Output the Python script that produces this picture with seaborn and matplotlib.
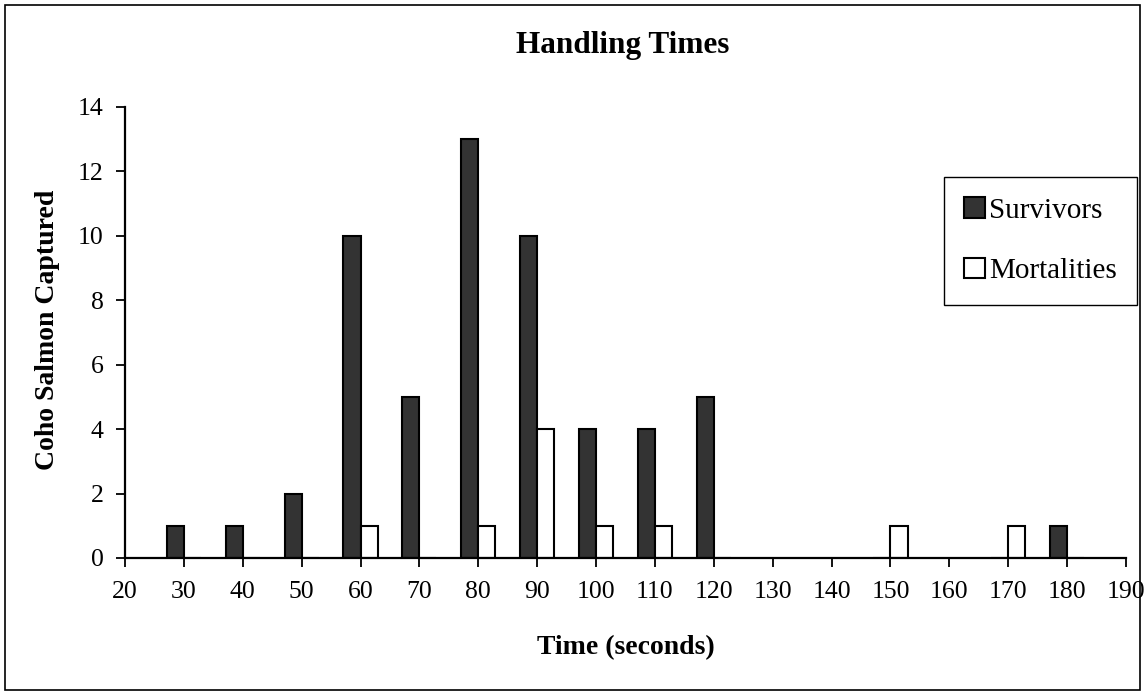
import matplotlib
matplotlib.use("Agg")
import matplotlib.pyplot as plt
from matplotlib.patches import Patch, Rectangle
import seaborn as sns
import pandas as pd

# ---- data ----
times = [30, 40, 50, 60, 70, 80, 90, 100, 110, 120, 150, 170, 180]
survivors = [1, 1, 2, 10, 5, 13, 10, 4, 4, 5, 0, 0, 1]
mortalities = [0, 0, 0, 1, 0, 1, 4, 1, 1, 0, 1, 1, 0]
series_names = ["Survivors", "Mortalities"]
x_ticks = list(range(20, 191, 10))
y_ticks = list(range(0, 15, 2))

df = pd.DataFrame({
    "Time": times * 2,
    "Count": survivors + mortalities,
    "Series": [series_names[0]] * len(times) + [series_names[1]] * len(times),
})

sns.set_style("ticks")
plt.rcParams["font.family"] = ["Liberation Serif", "DejaVu Serif"]
plt.rcParams["text.color"] = "black"
plt.rcParams["axes.labelcolor"] = "black"

fig = plt.figure(figsize=(11.46, 6.98), dpi=100)
ax = fig.add_axes([125 / 1146, 1 - 558 / 698, (1126 - 125) / 1146, (558 - 107) / 698])

colors = {"Survivors": "#333333", "Mortalities": "white"}
sns.barplot(data=df, x="Time", y="Count", hue="Series", hue_order=series_names,
            palette=colors, native_scale=True, dodge=True, width=0.58,
            errorbar=None, edgecolor="black", linewidth=1.5, legend=False,
            saturation=1, ax=ax)

ax.set_xlim(20, 190)
ax.set_ylim(0, 14)
ax.set_xticks(x_ticks)
ax.set_xticklabels([str(t) for t in x_ticks])
ax.set_yticks(y_ticks)
ax.set_yticklabels([str(t) for t in y_ticks])
ax.tick_params(axis="both", direction="out", length=6.5, width=1.3, labelsize=18.5,
               colors="black")
ax.tick_params(axis="x", pad=10)
ax.tick_params(axis="y", pad=9)
for s in ["top", "right"]:
    ax.spines[s].set_visible(False)
for s in ["left", "bottom"]:
    ax.spines[s].set_linewidth(1.6)
    ax.spines[s].set_color("black")

ax.set_xlabel("Time (seconds)", fontsize=20, fontweight="bold", va="center")
ax.xaxis.set_label_coords(0.5, -(648 - 558) / 451)
ax.set_ylabel("Coho Salmon Captured", fontsize=20, fontweight="bold", va="center")
ax.yaxis.set_label_coords(-(125 - 48) / 1001, 0.5 - (330 - 332.5) / 451)
fig.text(0.5435, 1 - 45 / 698, "Handling Times", ha="center", va="center",
         fontsize=22.5, fontweight="bold")

handles = [Patch(facecolor=colors[n], edgecolor="black", linewidth=1.5, label=n)
           for n in series_names]
leg = ax.legend(handles=handles, loc="upper left",
                bbox_to_anchor=(944 / 1146, 1 - 177 / 698),
                bbox_transform=fig.transFigure, fontsize=21, frameon=True,
                fancybox=False, framealpha=1, edgecolor="black",
                borderpad=0.7, labelspacing=1.17, handlelength=0.7,
                handleheight=0.7, handletextpad=0.15, borderaxespad=0)
leg.get_frame().set_linewidth(1.0)

# outer chart border
fig.patches.append(Rectangle((5 / 1146, 8 / 698), 1135 / 1146, 685 / 698,
                             transform=fig.transFigure, fill=False,
                             edgecolor="black", linewidth=1.2))

fig.savefig("out.png", dpi=100, facecolor="white")
